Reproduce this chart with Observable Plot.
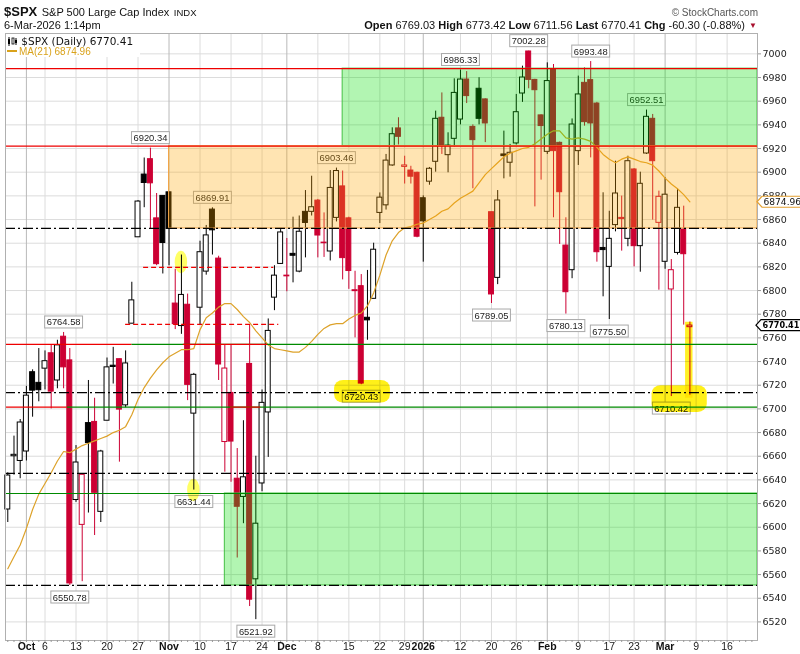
<!DOCTYPE html>
<html><head><meta charset="utf-8">
<script src="https://cdn.jsdelivr.net/npm/d3@7"></script>
<script src="https://cdn.jsdelivr.net/npm/@observablehq/plot@0.6"></script>
<style>
body{margin:0;background:#fff;font-family:"Liberation Sans",Arial,sans-serif;color:#111;}
#wrap{position:relative;width:800px;height:654px;overflow:hidden;}
#hdr{position:relative;height:32px;}
#hdr div{position:absolute;white-space:nowrap;}
#chart svg{display:block;}
#legend{position:absolute;left:6px;top:34px;width:134px;height:23px;background:#fff;}
</style></head><body>
<div id="wrap">
  <div id="hdr">
    <div style="left:4px;top:2px;"><b style="font-size:13px">$SPX</b> <span style="font-size:11px">S&amp;P 500 Large Cap Index</span> <span style="font-size:9.5px">INDX</span></div>
    <div id="stamp" style="left:4px;top:19px;font-size:11px;"></div>
    <div style="right:42px;top:7px;font-size:10px;color:#555;">© StockCharts.com</div>
    <div id="ohlc" style="right:55px;top:19px;font-size:11px;"></div>
    <div style="right:43px;top:21px;font-size:8px;color:#a8102e;">▼</div>
  </div>
  <div id="chart"></div>
  <div id="legend">
    <div style="position:absolute;left:1px;top:1px;font-family:'DejaVu Sans';font-size:10.5px;white-space:nowrap;">
      <svg width="11" height="9" style="vertical-align:-1px"><rect x="1" y="2" width="2" height="5" fill="#000"/><line x1="2" y1="0" x2="2" y2="9" stroke="#000"/><rect x="5" y="1" width="2" height="6" fill="none" stroke="#000" stroke-width="0.8"/><line x1="9" y1="1" x2="9" y2="8" stroke="#000"/><rect x="8" y="3" width="2" height="3" fill="#000"/></svg><span id="lg1"></span></div>
    <div style="position:absolute;left:1px;top:12px;font-size:10px;color:#d9a21b;white-space:nowrap;"><span style="display:inline-block;width:10px;height:2px;background:#d9a21b;vertical-align:3px;margin-right:2px;"></span><span id="lg2"></span></div>
  </div>
</div>
<script>
// ---------------- data ----------------
const dates = ["2025-09-26","2025-09-29","2025-09-30","2025-10-01","2025-10-02","2025-10-03","2025-10-06","2025-10-07","2025-10-08","2025-10-09","2025-10-10","2025-10-13","2025-10-14","2025-10-15","2025-10-16","2025-10-17","2025-10-20","2025-10-21","2025-10-22","2025-10-23","2025-10-24","2025-10-27","2025-10-28","2025-10-29","2025-10-30","2025-10-31","2025-11-03","2025-11-04","2025-11-05","2025-11-06","2025-11-07","2025-11-10","2025-11-11","2025-11-12","2025-11-13","2025-11-14","2025-11-17","2025-11-18","2025-11-19","2025-11-20","2025-11-21","2025-11-24","2025-11-25","2025-11-26","2025-11-28","2025-12-01","2025-12-02","2025-12-03","2025-12-04","2025-12-05","2025-12-08","2025-12-09","2025-12-10","2025-12-11","2025-12-12","2025-12-15","2025-12-16","2025-12-17","2025-12-18","2025-12-19","2025-12-22","2025-12-23","2025-12-24","2025-12-26","2025-12-29","2025-12-30","2025-12-31","2026-01-02","2026-01-05","2026-01-06","2026-01-07","2026-01-08","2026-01-09","2026-01-12","2026-01-13","2026-01-14","2026-01-15","2026-01-16","2026-01-20","2026-01-21","2026-01-22","2026-01-23","2026-01-26","2026-01-27","2026-01-28","2026-01-29","2026-01-30","2026-02-02","2026-02-03","2026-02-04","2026-02-05","2026-02-06","2026-02-09","2026-02-10","2026-02-11","2026-02-12","2026-02-13","2026-02-17","2026-02-18","2026-02-19","2026-02-20","2026-02-23","2026-02-24","2026-02-25","2026-02-26","2026-02-27","2026-03-02","2026-03-03","2026-03-04","2026-03-05","2026-03-06"];

const open = [6615,6660,6656,6664,6731,6722,6734,6747,6724,6761,6741,6623,6602,6688,6689,6613,6690,6736.5,6742,6703,6772,6845,6898,6911,6861,6880,6883,6789,6770,6788,6696,
6785.5,6816,6868.4,6827,6672,6713.5,6641,6625.6,6738,6556,6637,6697,6794,6822.5,6812,6831,6816,6866.5,6866.5,6876,6840,6833,6861.4,6888,6861,6799.5,6803.7,6777,6793,6865.6,6872,
6905.7,6937,6904.5,6901.4,6899.5,6878,6892,6908.8,6946,6914.4,6928.2,6944.5,6978.3,6938.3,6970.5,6961.5,6866.2,6810.7,6915,6908,6924.3,6966.5,7002,6978,6948,6917.2,6986.8,6924.8,6838,6817.2,6917.8,
6975.5,6977.8,6958,6836,6820,6855.3,6860.5,6843.7,6902.3,6837.5,6915.8,6945.1,6857.2,6824.3,6800.9,6831.8,6851.6,6769.03];

const high = [6646,6677,6691,6719,6733,6751,6749,6754,6758,6764.58,6751,6669,6645,6724,6709,6665,6743,6752,6742,6749,6807,6876,6912,6920.34,6882,6880,6883,6818,6830,6797,6730,
6841.7,6855,6869.91,6829,6754.4,6754,6666.5,6690,6770.7,6660,6716,6776,6821,6851.5,6844,6862,6863,6884.5,6896.6,6877,6865.6,6901.4,6903.46,6901,6862,6816.3,6813.5,6817,6840,6882.5,6915,
6937.5,6946,6913.5,6905,6900,6880,6904,6951.6,6967,6933.3,6978.9,6986.33,6985,6940,6979.8,6962,6866.2,6884.5,6934.7,6923.5,6965.7,6989.6,7002.28,6978.5,6948.5,6992.4,6991,6925.5,6861.5,6945,6981.2,
6988.2,6993.48,6959,6882.6,6867,6909.3,6879.8,6913.5,6903,6900,6952.51,6948.8,6884,6895.3,6826.2,6885.9,6871.3,6773.42];

const low = [6604,6644,6641,6656,6693,6706,6716,6700,6717,6717,6550.78,6621,6554,6612,6593,6604,6690,6721,6655,6701,6772,6845,6870,6852,6821,6814,6821,6767,6763,6707,6631.44,
6771,6813,6830,6724,6646.5,6638,6574,6603,6533,6521.92,6630,6659,6783,6822,6799,6806.5,6815,6827.6,6863,6827.6,6828,6825,6858,6809,6801,6760,6720.43,6758,6793,6856.6,6868,
6905,6923,6890,6890,6844.6,6824,6889,6900,6915,6899.5,6921.4,6940,6958,6886,6940,6925,6789.05,6805,6894.4,6895.8,6923,6959,6970.5,6870.7,6893.3,6915,6861.5,6839,6780.13,6810,6905.7,
6938.9,6912.1,6824,6794.7,6775.5,6849.6,6833.3,6837,6820,6815.5,6915,6859.5,6800.3,6818,6710.42,6830,6770.8,6711.56];

const close = [6643.7,6661.2,6688.5,6711.2,6715.4,6715.8,6740.3,6714.6,6753.7,6735.1,6552.5,6654.7,6644.3,6671.1,6629.1,6664.0,6735.1,6735.4,6699.4,6738.4,6791.7,6875.2,6890.9,6890.6,6822.3,6840.2,6852.0,6771.6,6796.3,6720.3,6728.8,
6832.4,6846.6,6850.9,6737.5,6734.1,6672.4,6617.3,6642.2,6538.8,6603.0,6705.1,6765.9,6812.6,6849.1,6812.6,6829.4,6849.7,6857.1,6870.4,6846.5,6840.5,6886.7,6901.0,6827.4,6816.5,6800.3,6721.4,6774.8,6834.5,6878.5,6909.8,
6932.1,6929.9,6905.7,6896.2,6845.5,6858.5,6902.9,6945.1,6922,6922.5,6967,6978.3,6964.3,6927.1,6945.1,6941.2,6796.7,6876.1,6913.6,6916.4,6950.7,6980,6978,6969.3,6939,6977,6917.8,6883.1,6798.6,6940.3,6965.7,
6942.3,6941.2,6832.4,6834.2,6843.7,6882,6861.4,6909.3,6837.5,6890.2,6946.8,6909.3,6879.2,6881,6817.2,6869.9,6830.71,6770.41];

const ma21 = [6565,6575,6585,6599,6615,6628,6637,6646,6656,6664,6663,6666,6669,6671,6673,6675,6677,6680,6682,6685,6695,6708,6718,6726,6733,6739,6744,6747,6750,6750,6751,
6767,6777,6781,6786,6789,6789,6784,6778,6773,6766,6760,6754,6751,6750,6749,6748,6748,6752,6757,6763,6768,6771,6772,6772,6776,6779,6781,6787,6798,6813,6830,
6842,6849,6853,6854,6856,6857,6860,6863,6867,6869,6874,6878,6881,6884,6891,6898,6903,6908,6913,6916,6918,6920,6921,6924,6928,6932,6935,6935,6929,6928,6929,
6928,6926,6921,6915,6911,6908,6911,6913,6911,6909,6908,6906,6901,6895,6890,6886,6881,6874.96];

const priorClose = 6604.7;

// x-axis tick labels (trading-day index)
const xTickIdx  = [3,6,11,16,21,26,31,36,41,45,50,55,60,64,67,73,78,82,87,92,97,101,106,111,116];
const xTickText = ["Oct","6","13","20","27","Nov","10","17","24","Dec","8","15","22","29","2026","12","20","26","Feb","9","17","23","Mar","9","16"];
const yTicks = d3.range(6520, 7001, 20);

// annotated price values
const calloutHighIdx = [9,23,33,53,73,84,94,103];
const calloutLowIdx  = [10,30,40,57,78,90,97,107];

// drawn levels (price, from index, to index; null = chart edge)
const redLevels    = [[6987.5,null,null],[6922,null,null],[6754.5,null,20],[6754.5,28.3,41.9],[6701.5,null,9.6],[6701.5,35.9,40.8]];
const greenLevels  = [[6754.5,20,null],[6701.5,9.6,null],[6628.5,null,null]];
const dashDotLevels= [[6852.5,null,null],[6713.8,null,null],[6645.5,null,null],[6550.8,null,null]];
const dashedRed    = [[6819.5,21.9,42.9],[6771.5,19,43.7]];
// zones (from index, low, high)
const greenZones  = [[54,6922,6987.5],[35,6550.8,6628.5]];
const orangeZones = [[26,6852.5,6922]];
// highlights
const hlOvals = [[28,6823.7],[30,6631]];
const hlBlobs = [[52.7,61.7,6705,6724],[103.9,112.8,6697,6719.6]];
const hlBars  = [[109.3,110.5,6709,6773.2]];

// ---------------- chart ----------------
const XD = [-0.37, 120.9];
const YD = [6504.3, 7017.2];
const RED = "#cc0033";
const candles = dates.map((d,i)=>({i, d, o:open[i], h:high[i], l:low[i], c:close[i], m:ma21[i], pc: i ? close[i-1] : priorClose}));
const col = d => d.c >= d.pc ? "#000000" : RED;
const isBold = t => !/^\d{1,2}$/.test(t);
const lab = new Map(xTickIdx.map((v,k)=>[v, xTickText[k]]));
const boldTicks = xTickIdx.filter(v => isBold(lab.get(v)));
const normTicks = xTickIdx.filter(v => !isBold(lab.get(v)));
const lv = a => a.map(([p,f,t])=>({p, x1: f==null?XD[0]:f, x2: t==null?XD[1]:t}));
const zn = a => a.map(([f,lo,hi])=>({x1:f, x2:XD[1], lo, hi}));

const last = candles[candles.length-1];
const chg = last.c - last.pc;
document.getElementById("stamp").textContent = "6-Mar-2026 1:14pm";
document.getElementById("ohlc").innerHTML =
  `<b>Open</b> ${last.o.toFixed(2)} <b>High</b> ${last.h.toFixed(2)} <b>Low</b> ${last.l.toFixed(2)} <b>Last</b> ${last.c.toFixed(2)} <b>Chg</b> ${chg.toFixed(2)} (${(chg/last.pc*100).toFixed(2)}%)`;
document.getElementById("lg1").textContent = " $SPX (Daily) " + last.c.toFixed(2);
document.getElementById("lg2").textContent = "MA(21) " + last.m.toFixed(2);

const svg = Plot.plot({
  width: 800, height: 622,
  marginLeft: 5, marginRight: 43, marginTop: 1, marginBottom: 14,
  x: {type: "linear", domain: XD, axis: null},
  y: {type: "linear", domain: YD, axis: null},
  color: {type: "identity"},
  style: {background: "#fff", overflow: "visible"},
  marks: [
    Plot.gridY(yTicks, {stroke: "#dcdcdc", strokeOpacity: 1}),
    Plot.gridX(normTicks, {stroke: "#dcdcdc", strokeOpacity: 1}),
    Plot.gridX(boldTicks, {stroke: "#b9b9b9", strokeOpacity: 1}),
    Plot.ruleX(candles, {x: "i", y1: "l", y2: "h", stroke: col, strokeWidth: 1}),
    Plot.rect(candles, {x1: d=>d.i-0.4, x2: d=>d.i+0.4, y1: d=>Math.min(d.o,d.c), y2: d=>Math.max(d.o,d.c),
      fill: d => d.c >= d.o ? "#ffffff" : col(d), stroke: col, strokeWidth: 1}),
    Plot.line(candles, {x: "i", y: "m", stroke: "#dda22a", strokeWidth: 1.2}),
    Plot.text(calloutHighIdx, {x: d=>d, y: d=>high[d], text: d=>high[d].toFixed(2), dy: -10, fontSize: 9.4, fontFamily: "Liberation Sans", fill: "#222"}),
    Plot.text(calloutLowIdx, {x: d=>d, y: d=>low[d], text: d=>low[d].toFixed(2), dy: 12, fontSize: 9.4, fontFamily: "Liberation Sans", fill: "#222"}),
    Plot.rect(hlOvals, {x1: d=>d[0]-1, x2: d=>d[0]+1, y1: d=>d[1]-9.5, y2: d=>d[1]+9.5, rx: 6, ry: 11, fill: "#ffff33", fillOpacity: 0.75, mixBlendMode: "multiply"}),
    Plot.rect(hlBlobs, {x1: d=>d[0], x2: d=>d[1], y1: d=>d[2], y2: d=>d[3], rx: 9, ry: 8, fill: "#ffee00", fillOpacity: 0.9, mixBlendMode: "multiply"}),
    Plot.rect(hlBars, {x1: d=>d[0], x2: d=>d[1], y1: d=>d[2], y2: d=>d[3], fill: "#ffee00", fillOpacity: 0.85, mixBlendMode: "multiply"}),
    Plot.rect(zn(greenZones), {x1: "x1", x2: "x2", y1: "lo", y2: "hi", fill: "#00dd00", fillOpacity: 0.3, stroke: "#44c044", strokeWidth: 1}),
    Plot.rect(zn(orangeZones), {x1: "x1", x2: "x2", y1: "lo", y2: "hi", fill: "#ffa500", fillOpacity: 0.3, stroke: "#f0a448", strokeWidth: 1}),
    Plot.ruleY(lv(greenLevels), {y: "p", x1: "x1", x2: "x2", stroke: "#008a00", strokeWidth: 1.2}),
    Plot.ruleY(lv(redLevels), {y: "p", x1: "x1", x2: "x2", stroke: "#ee0000", strokeWidth: 1.2}),
    Plot.ruleY(lv(dashDotLevels), {y: "p", x1: "x1", x2: "x2", stroke: "#000", strokeWidth: 1.3, strokeDasharray: "10,3,2,3"}),
    Plot.ruleY(lv(dashedRed), {y: "p", x1: "x1", x2: "x2", stroke: "#ee0000", strokeWidth: 1.2, strokeDasharray: "5,3"}),
    Plot.frame({stroke: "#b0b0b0"}),
    Plot.axisY(yTicks, {anchor: "right", tickSize: 3, tickPadding: 2, tickFormat: d => String(d), fontSize: 9.5, fontFamily: "DejaVu Sans", fill: "#222", stroke: "#999"}),
    Plot.axisX(d3.range(0, 121), {anchor: "bottom", tickSize: 2, tickPadding: 0, tickFormat: () => "", stroke: "#999"}),
    Plot.axisX(normTicks, {anchor: "bottom", tickSize: 0, tickPadding: 2, tickFormat: d => lab.get(d), fontSize: 10.5, fontFamily: "Liberation Sans", fill: "#222"}),
    Plot.axisX(boldTicks, {anchor: "bottom", tickSize: 0, tickPadding: 2, tickFormat: d => lab.get(d), fontSize: 10.5, fontWeight: "bold", fontFamily: "Liberation Sans", fill: "#111"}),
    Plot.text([last.m], {x: XD[1], y: d=>d, text: d=>d.toFixed(2), dx: 6, textAnchor: "start", fontSize: 9.1, fontFamily: "DejaVu Sans", fill: "#111"}),
    Plot.text([last.c], {x: XD[1], y: d=>d, text: d=>d.toFixed(2), dx: 5, textAnchor: "start", fontSize: 8.1, fontWeight: "bold", fontFamily: "DejaVu Sans", fill: "#000"})
  ]
});
document.getElementById("chart").appendChild(svg);

const NS = "http://www.w3.org/2000/svg";
function decorate(fs, make) {
  svg.querySelectorAll(`g[font-size="${fs}"]`).forEach(g => {
    g.querySelectorAll("text").forEach(t => {
      const b = t.getBBox();
      const el = make(b);
      const tr = t.getAttribute("transform");
      if (tr) el.setAttribute("transform", tr);
      g.insertBefore(el, t);
    });
  });
}
decorate("9.4", b => {
  const r = document.createElementNS(NS, "rect");
  r.setAttribute("x", b.x - 2); r.setAttribute("y", b.y - 0.5);
  r.setAttribute("width", b.width + 4); r.setAttribute("height", b.height + 1);
  r.setAttribute("fill", "#fff"); r.setAttribute("stroke", "#a8a8a8"); r.setAttribute("stroke-width", "1");
  return r;
});
function tag(stroke, sw) {
  return b => {
    const p = document.createElementNS(NS, "path");
    const x0 = b.x - 1.5, x1 = b.x + b.width + 3, y0 = b.y - 0.5, y1 = b.y + b.height + 0.5, ym = (y0 + y1) / 2;
    p.setAttribute("d", `M${x0-5},${ym}L${x0},${y0}L${x1},${y0}L${x1},${y1}L${x0},${y1}Z`);
    p.setAttribute("fill", "#fff"); p.setAttribute("stroke", stroke); p.setAttribute("stroke-width", sw);
    return p;
  };
}
decorate("9.1", tag("#e3a030", "1.2"));
decorate("8.1", tag("#000", "1.2"));
</script>
</body></html>
